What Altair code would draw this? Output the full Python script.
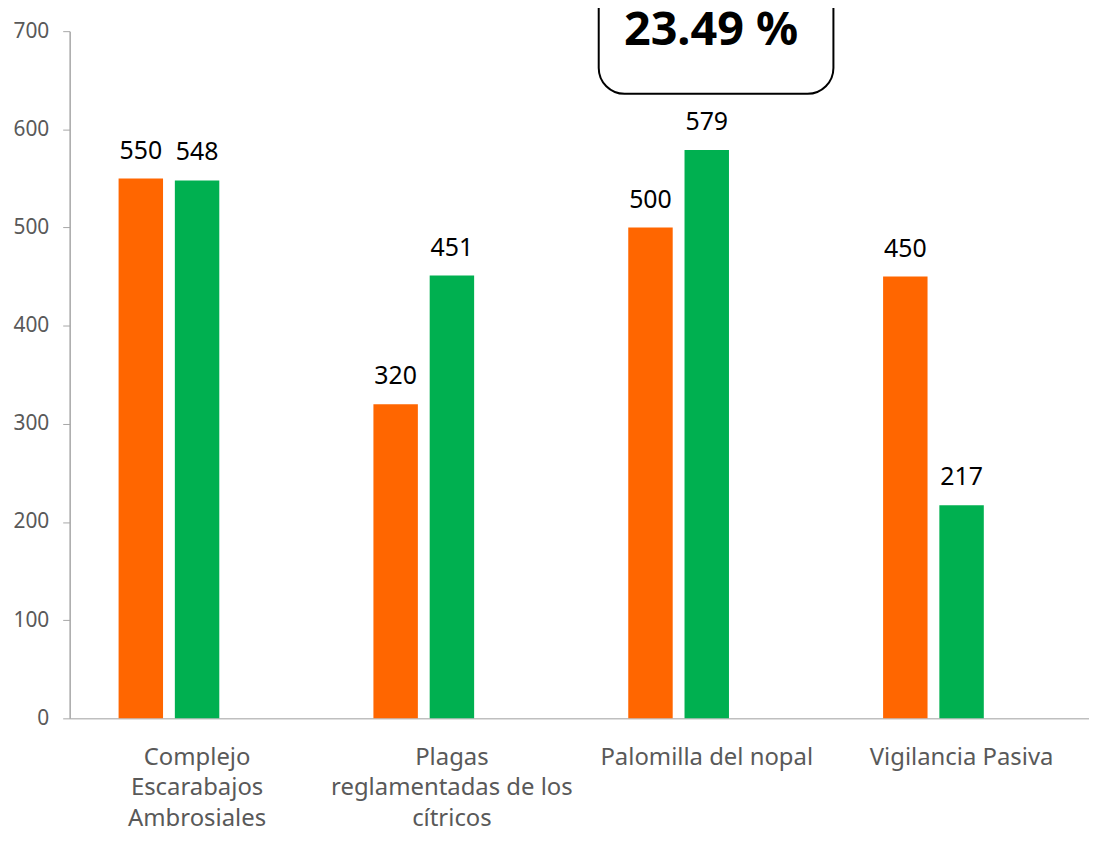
import altair as alt
import pandas as pd

categories = [
    "Complejo Escarabajos Ambrosiales",
    "Plagas reglamentadas de los cítricos",
    "Palomilla del nopal",
    "Vigilancia Pasiva",
]
label_lines = [
    ["Complejo", "Escarabajos", "Ambrosiales"],
    ["Plagas", "reglamentadas de los", "cítricos"],
    ["Palomilla del nopal"],
    ["Vigilancia Pasiva"],
]
series_names = ["Programado", "Realizado", "Oculto"]
programado = [550, 320, 500, 450]
realizado = [548, 451, 579, 217]
annotation_text = "23.49 %"

rows = []
for c, p, r in zip(categories, programado, realizado):
    rows.append({"categoria": c, "serie": series_names[0], "valor": p})
    rows.append({"categoria": c, "serie": series_names[1], "valor": r})
df = pd.DataFrame(rows)

label_expr = ""
for c, lines in zip(categories, label_lines):
    arr = "[" + ",".join("'" + l + "'" for l in lines) + "]"
    label_expr += f"datum.value == '{c}' ? {arr} : "
label_expr += "datum.label"

FONT = "Noto Sans"

x_enc = alt.X(
    "categoria:N",
    sort=categories,
    scale=alt.Scale(paddingInner=0.384, paddingOuter=0.192),
    axis=alt.Axis(
        title=None,
        labelAngle=0,
        ticks=False,
        domainColor="#BFBFBF",
        domainWidth=1.5,
        labelColor="#595959",
        labelFontSize=24,
        labelFont=FONT,
        labelLineHeight=31,
        labelPadding=27,
        labelLimit=400,
        labelExpr=label_expr,
    ),
)
xoff = alt.XOffset(
    "serie:N",
    scale=alt.Scale(domain=series_names, paddingInner=0.21, paddingOuter=0),
)
y_enc = alt.Y(
    "valor:Q",
    scale=alt.Scale(domain=[0, 700], nice=False),
    axis=alt.Axis(
        title=None,
        values=[0, 100, 200, 300, 400, 500, 600, 700],
        grid=False,
        domainColor="#A6A6A6",
        domainWidth=1.5,
        tickColor="#A6A6A6",
        tickSize=7,
        labelColor="#595959",
        labelFontSize=21,
        labelFont=FONT,
        labelPadding=14,
    ),
)
color_enc = alt.Color(
    "serie:N",
    scale=alt.Scale(domain=series_names[:2], range=["#FF6600", "#00B050"]),
    legend=None,
)

base = alt.Chart(df)
bars = base.mark_bar().encode(x=x_enc, xOffset=xoff, y=y_enc, color=color_enc)
labels = base.mark_text(
    baseline="alphabetic", dy=-20, fontSize=25, font=FONT, color="black"
).encode(x=x_enc, xOffset=xoff, y=y_enc, text="valor:Q")

ann_df = pd.DataFrame({"texto": [annotation_text]})
box = alt.Chart(ann_df).mark_rect(
    cornerRadius=26, fill="white", stroke="black", strokeWidth=2
).encode(
    x=alt.value(532), x2=alt.value(768), y=alt.value(-60), y2=alt.value(63)
)
ann_text = alt.Chart(ann_df).mark_text(
    fontSize=47, fontWeight="bold", font=FONT, baseline="alphabetic", color="black"
).encode(x=alt.value(645), y=alt.value(14), text="texto:N")

chart = (
    alt.layer(bars, labels, box, ann_text)
    .properties(
        width=1025,
        height=691,
        autosize=alt.AutoSizeParams(type="none"),
        padding={"left": 62, "top": 21, "right": 0, "bottom": 114},
    )
    .configure_view(stroke=None)
)

chart.save("out.html", embed_options={"renderer": "svg", "actions": False})
